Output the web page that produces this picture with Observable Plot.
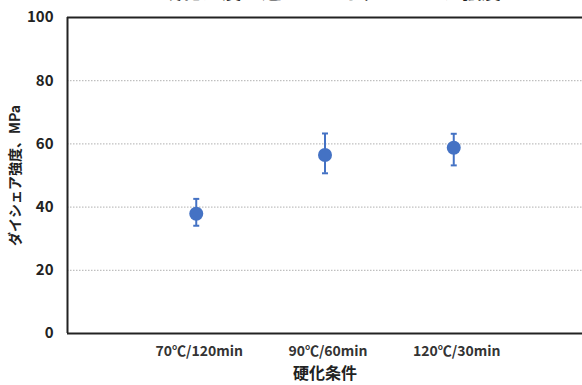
<!DOCTYPE html>
<html>
<head>
<meta charset="utf-8">
<script src="https://cdn.jsdelivr.net/npm/d3@7"></script>
<script src="https://cdn.jsdelivr.net/npm/@observablehq/plot@0.6"></script>
<style>
  html, body { margin: 0; padding: 0; background: #fff; overflow: hidden; }
  svg { display: block; }
</style>
</head>
<body>
<div id="chart"></div>
<script>
const categories = ["70℃/120min", "90℃/60min", "120℃/30min"];
const positions = [1, 2, 3];
const strength = [37.9, 56.5, 58.8];
const upper = [42.6, 63.3, 63.2];
const lower = [34.1, 50.7, 53.2];
const yTicks = [0, 20, 40, 60, 80, 100];
const title = "硬化温度の違いによるダイシェア強度";

const data = categories.map((c, i) => ({cat: c, x: positions[i], y: strength[i], hi: upper[i], lo: lower[i]}));

const blue = "#4472C4";
const font = "'Noto Sans CJK JP', 'Noto Sans', sans-serif";
const cap = {draw(ctx, size) { const w = 3; ctx.moveTo(-w, 0); ctx.lineTo(w, 0); }};

const chart = Plot.plot({
  width: 582,
  height: 385,
  marginLeft: 67,
  marginRight: 0,
  marginTop: 17,
  marginBottom: 52,
  style: {fontFamily: font, background: "#fff", overflow: "visible"},
  x: {type: "linear", domain: [0, 4], label: null},
  y: {domain: [0, 100], label: null},
  marks: [
    Plot.gridY(yTicks.filter(t => t > 0 && t < 100), {stroke: "#b0b0b0", strokeOpacity: 1, strokeDasharray: "1.5,1.5", strokeWidth: 1}),
    Plot.ruleY([0, 100], {stroke: "#222", strokeWidth: 2}),
    Plot.ruleX([0], {stroke: "#222", strokeWidth: 2}),
    Plot.axisY(yTicks, {tickSize: 0, tickPadding: 14, fontSize: 15, fontWeight: "bold", fill: "#222", label: null}),
    Plot.axisX(positions, {tickSize: 0, tickPadding: 13, fontSize: 14, fontWeight: 600, fill: "#333", tickFormat: (d) => categories[positions.indexOf(d)], label: null, dx: 3}),
    Plot.text(["ダイシェア強度、MPa"], {frameAnchor: "left", textAnchor: "middle", dx: -52, rotate: -90, fontSize: 14, fontWeight: "bold", fill: "#222", lineAnchor: "middle"}),
    Plot.text(["硬化条件"], {frameAnchor: "bottom", x: 2, dy: 45, fontSize: 16, fontWeight: "bold", fill: "#222"}),
    Plot.text([title], {frameAnchor: "top", x: 2.05, dy: -32.5, fontSize: 20, fontWeight: "bold", fill: "#222"}),
    Plot.ruleX(data, {x: "x", y1: "lo", y2: "hi", stroke: blue, strokeWidth: 2}),
    Plot.dot(data, {x: "x", y: "hi", symbol: cap, stroke: blue, strokeWidth: 2, fill: "none"}),
    Plot.dot(data, {x: "x", y: "lo", symbol: cap, stroke: blue, strokeWidth: 2, fill: "none"}),
    Plot.dot(data, {x: "x", y: "y", r: 7, fill: blue, stroke: blue, strokeWidth: 0})
  ]
});
document.getElementById("chart").appendChild(chart);
</script>
</body>
</html>
